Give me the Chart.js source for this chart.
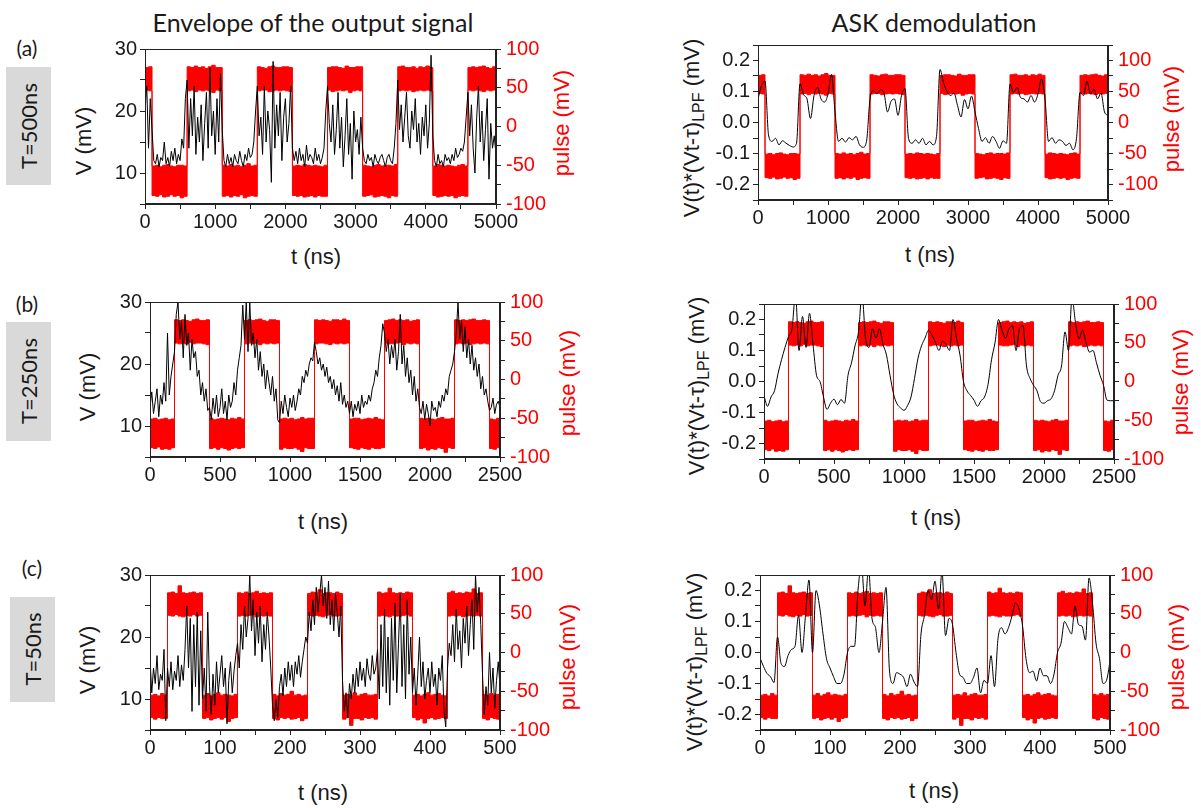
<!DOCTYPE html>
<html>
<head>
<meta charset="utf-8">
<script src="https://cdn.jsdelivr.net/npm/chart.js@4.4.1/dist/chart.umd.min.js"></script>
<style>
  body { margin: 0; background: #fff; width: 1201px; height: 808px; position: relative; overflow: hidden;
         font-family: 'Liberation Sans', Arial, sans-serif; color: #1a1a1a; }
  canvas { position: absolute; }
  .lbl { position: absolute; white-space: nowrap; transform: translate(-50%, -50%); }
  .rot { transform: translate(-50%, -50%) rotate(-90deg); }
  .axt { font-size: 22px; }
  .red { color: #ff0000; }
  .head { font-family: Lato, 'Open Sans', sans-serif; font-size: 25px; }
  .tag { font-family: Lato, 'Open Sans', sans-serif; font-size: 21px; }
  .box { position: absolute; background: #d9d9d9; }
  sub { font-size: 16px; vertical-align: -5px; }
</style>
</head>
<body>

<div class="lbl head" style="left:313px;top:22px">Envelope of the output signal</div>
<div class="lbl head" style="left:934px;top:22px">ASK demodulation</div>

<div class="lbl tag" style="left:27px;top:47px">(a)</div>
<div class="lbl tag" style="left:27px;top:303px">(b)</div>
<div class="lbl tag" style="left:32px;top:567px">(c)</div>

<div class="box" style="left:6px;top:67px;width:45px;height:118px"></div>
<div class="box" style="left:6px;top:322px;width:45px;height:119px"></div>
<div class="box" style="left:10px;top:597px;width:45px;height:105px"></div>
<div class="lbl rot tag" style="left:28px;top:126px;font-size:22px">T=500ns</div>
<div class="lbl rot tag" style="left:28px;top:381px;font-size:22px">T=250ns</div>
<div class="lbl rot tag" style="left:32px;top:649px;font-size:22px">T=50ns</div>

<div class="lbl rot axt" style="left:84px;top:141px">V (mV)</div>
<div class="lbl rot axt red" style="left:562px;top:123px">pulse (mV)</div>
<div class="lbl rot axt" style="left:693px;top:128px">V(t)*(Vt-τ)<sub>LPF</sub> (mV)</div>
<div class="lbl rot axt red" style="left:1172px;top:119px">pulse (mV)</div>

<div class="lbl rot axt" style="left:88px;top:387px">V (mV)</div>
<div class="lbl rot axt red" style="left:568px;top:383px">pulse (mV)</div>
<div class="lbl rot axt" style="left:698px;top:386px">V(t)*(Vt-τ)<sub>LPF</sub> (mV)</div>
<div class="lbl rot axt red" style="left:1181px;top:382px">pulse (mV)</div>

<div class="lbl rot axt" style="left:88px;top:660px">V (mV)</div>
<div class="lbl rot axt red" style="left:568px;top:657px">pulse (mV)</div>
<div class="lbl rot axt" style="left:696px;top:662px">V(t)*(Vt-τ)<sub>LPF</sub> (mV)</div>
<div class="lbl rot axt red" style="left:1177px;top:657px">pulse (mV)</div>

<div class="lbl axt" style="left:316px;top:257px">t (ns)</div>
<div class="lbl axt" style="left:930px;top:255px">t (ns)</div>
<div class="lbl axt" style="left:323px;top:522px">t (ns)</div>
<div class="lbl axt" style="left:936px;top:518px">t (ns)</div>
<div class="lbl axt" style="left:323px;top:793px">t (ns)</div>
<div class="lbl axt" style="left:934px;top:791px">t (ns)</div>

<script>
// ---- tick labels ----
const xTicksA = [0, 1000, 2000, 3000, 4000, 5000];
const xTicksB = [0, 500, 1000, 1500, 2000, 2500];
const xTicksC = [0, 100, 200, 300, 400, 500];
const vTicks = [10, 20, 30];
const askTicks = [-0.2, -0.1, 0, 0.1, 0.2];
const pulseTicks = [-100, -50, 0, 50, 100];

// ---- (a) T=500ns ----
// envelope, one value every 25 ns
const envA = [
  20, 24, 14, 22,
  17, 12, 11.5, 13, 11, 12.5, 12, 15, 11.5, 12.5, 11, 13.5, 12, 14, 11.5, 13, 12, 15.5, 14, 22,
  25, 14, 22, 16, 24, 13, 19, 15, 21, 12, 18, 23, 14, 27, 16, 20, 13, 22, 15, 26,
  17, 12, 11, 13, 11.5, 12.5, 11, 13, 12, 11.5, 13.5, 12, 11, 13, 12, 14, 12.5, 13, 15, 20,
  24, 16, 19, 13, 24, 15, 20, 17, 8.5, 28, 14, 21, 16, 23, 12, 19, 22, 15, 18, 24,
  14, 12, 13.5, 11.5, 14, 12, 13, 11, 14.5, 12, 13, 12.5, 11.5, 14, 12, 13, 11.5, 12.5, 14, 20,
  24, 18, 15, 21, 13, 17, 23, 14, 19, 11, 16, 22, 13, 18, 9, 20, 15, 17, 13, 19,
  14, 12, 11.5, 13, 12, 12.5, 11, 13, 12, 11.5, 12.5, 13, 12, 11, 12.5, 13, 12, 11.5, 14, 18,
  25, 17, 21, 15, 19, 23, 16, 14, 20, 17, 22, 15, 18, 13, 19, 16, 21, 14, 18, 29,
  16, 12, 11, 13, 11.5, 12, 11, 13, 12, 12.5, 11.5, 13, 12, 14, 12.5, 13, 14, 13.5, 15, 19,
  23, 16, 21, 14, 10, 19, 24, 15, 20, 12, 17, 22, 9, 18, 14, 16, 13
];
// demodulated, one value every 50 ns
const askA = [
  0.076, 0.118, 0.134, -0.04, -0.061, -0.051, -0.072, -0.059, -0.067, -0.074,
  -0.079, -0.067, 0.125, 0.09, 0.076, 0.013, 0.087, 0.113, 0.076, 0.066,
  0.092, 0.155, 0.034, -0.061, -0.051, -0.063, -0.049, -0.056, -0.045, -0.072,
  -0.08, -0.061, 0.076, 0.103, 0.092, 0.106, 0.095, 0.034, 0.068, 0.076,
  0.023, 0.087, 0.11, -0.051, -0.067, -0.056, -0.067, -0.051, -0.072, -0.061,
  -0.072, -0.045, 0.171, 0.129, 0.1, 0.087, 0.095, 0.055, 0.018, 0.074,
  0.044, 0.085, 0.034, -0.019, -0.061, -0.049, -0.067, -0.045, -0.061, -0.083,
  -0.059, -0.067, 0.124, 0.097, 0.113, 0.081, 0.076, 0.066, 0.087, 0.066,
  0.092, 0.14, 0.076, -0.061, -0.049, -0.067, -0.056, -0.061, -0.074, -0.067,
  -0.088, -0.051, 0.097, 0.087, 0.134, 0.092, 0.108, 0.076, 0.095, 0.034,
  0.023
];
// pulse noise band (upper / lower edge), one value every 50 ns
const pulseTopA = [
  76, 77,
  -51, -50, -52, -50, -49, -51, -52, -50, -50, -51,
  77, 76, 78, 76, 77, 75, 77, 79, 76, 76,
  -50, -51, -49, -51, -50, -52, -50, -48, -51, -50,
  77, 76, 75, 77, 78, 76, 76, 77, 77, 76,
  -51, -50, -51, -49, -50, -51, -50, -51, -52, -50,
  76, 77, 77, 76, 75, 78, 76, 76, 77, 77,
  -50, -51, -52, -50, -49, -51, -50, -50, -51, -49,
  77, 78, 76, 76, 77, 75, 77, 76, 78, 76,
  -51, -49, -50, -51, -50, -51, -52, -50, -49, -51,
  76, 77, 76, 77, 78, 76, 75, 77, 77
];
const pulseBotA = [
  47, 46,
  -89, -90, -88, -91, -90, -88, -90, -89, -92, -90,
  46, 47, 45, 47, 46, 47, 46, 44, 47, 46,
  -90, -89, -91, -89, -90, -88, -92, -90, -89, -90,
  46, 47, 47, 45, 46, 47, 46, 47, 46, 45,
  -89, -90, -89, -91, -90, -89, -91, -89, -90, -90,
  47, 45, 46, 47, 46, 47, 44, 46, 47, 46,
  -90, -89, -88, -91, -90, -89, -90, -92, -89, -90,
  46, 47, 46, 47, 45, 46, 47, 46, 47, 46,
  -89, -91, -90, -89, -90, -89, -92, -90, -89, -90,
  47, 46, 47, 46, 45, 47, 46, 47, 46
];

// ---- (b) T=250ns ----
// envelope, one value every 12.5 ns
const envB = [
  13, 15.5, 12, 14, 16, 11.5, 15, 13.5, 17, 14, 25, 15, 18, 20,
  22, 28, 30, 24, 27, 21, 28, 23, 25, 19, 24, 21, 22, 18, 19, 15, 17, 14, 16, 12.5,
  13, 11, 14.5, 12, 15, 11.5, 13, 16, 12, 14, 11, 15, 13, 14, 17, 15, 19, 21, 23, 29.5,
  24, 30, 22, 30, 23, 25, 21, 24, 19, 22, 18, 20, 16, 19, 17, 15, 18, 14, 16, 11,
  10.5, 14, 12, 15, 13, 11.5, 14.5, 13, 15, 12.5, 14, 16, 15, 18, 17, 19, 18, 20, 21, 20.5,
  23.5, 22, 20, 21, 19, 20, 18, 19.5, 17, 18, 16, 17.5, 15, 16.5, 14, 17, 13.5, 15, 13, 14,
  12, 14, 11.5, 13.5, 12.5, 14, 12, 15, 13, 14, 13.5, 15, 14, 16, 17, 19, 18, 21, 23, 26.5,
  25, 22, 24, 20, 23, 21, 24, 19, 22, 28, 20, 23, 18, 21, 17, 19, 15, 18, 14, 16,
  13, 12, 14, 11, 13.5, 12, 10, 14, 12.5, 13, 11.5, 14, 13, 15, 14, 16, 15, 18, 19, 20,
  22, 25, 30, 24, 27, 22, 26, 21, 24, 20, 23, 19, 21, 18, 20, 16, 18, 15, 16, 14,
  12.5, 13, 14.5, 12, 13.5, 14, 13
];
// demodulated, one value every 25 ns
const askB = [
  -0.046, -0.08, -0.05, -0.03, 0.025, 0.07, 0.11, 0.145, 0.17, 0.28,
  0.1, 0.21, 0.11, 0.22, 0.12, 0.02, 0.0, -0.05, -0.09, -0.07,
  -0.057, -0.075, -0.058, -0.07, 0.02, 0.06, 0.115, 0.16, 0.28, 0.14,
  0.11, 0.17, 0.14, 0.17, 0.12, 0.085, 0.02, -0.04, -0.072, -0.085,
  -0.093, -0.078, -0.05, 0.01, 0.075, 0.115, 0.14, 0.165, 0.15, 0.125,
  0.1, 0.13, 0.12, 0.1, 0.2, 0.14, 0.085, 0.0, -0.03, -0.045,
  -0.06, -0.08, -0.062, -0.05, -0.01, 0.07, 0.125, 0.2, 0.165, 0.14,
  0.17, 0.18, 0.1, 0.17, 0.18, 0.05, 0.01, -0.012, -0.03, -0.065,
  -0.07, -0.062, -0.056, -0.03, 0.02, 0.05, 0.16, 0.1, 0.27, 0.19,
  0.137, 0.165, 0.126, 0.095, 0.1, 0.06, 0.02, -0.012, -0.06, -0.062,
  -0.062
];
// pulse band edges, one value every 25 ns
const pulseTopB = [
  -51, -50, -52, -51, -50, -52, -51,
  77, 76, 77, 76, 75, 77, 78, 76, 76, 77,
  -50, -52, -51, -50, -51, -52, -50, -51, -49, -51,
  76, 77, 76, 77, 78, 76, 75, 77, 77, 76,
  -51, -50, -51, -50, -52, -51, -49, -51, -50, -50,
  77, 76, 77, 76, 75, 77, 77, 76, 78, 76,
  -51, -50, -50, -52, -51, -50, -51, -49, -51, -52,
  76, 77, 78, 76, 77, 76, 77, 75, 76, 77,
  -50, -51, -50, -51, -52, -50, -49, -51, -51, -50,
  77, 76, 77, 76, 77, 78, 76, 76, 77, 76,
  -51, -52, -50, -51
];
const pulseBotB = [
  -88, -89, -87, -90, -89, -90, -88,
  47, 46, 47, 46, 48, 46, 47, 47, 46, 45,
  -89, -88, -90, -88, -89, -91, -89, -88, -89, -88,
  46, 47, 46, 47, 45, 47, 46, 47, 46, 47,
  -90, -88, -89, -89, -88, -90, -93, -88, -89, -89,
  46, 47, 47, 46, 45, 47, 46, 47, 46, 47,
  -88, -89, -90, -88, -89, -90, -88, -89, -89, -88,
  47, 46, 46, 47, 48, 45, 47, 46, 47, 46,
  -89, -88, -91, -89, -90, -88, -89, -94, -88, -89,
  46, 47, 46, 47, 45, 46, 47, 46, 47, 46,
  -89, -90, -88, -89
];

// ---- (c) T=50ns ----
// envelope, one value every 2.5 ns
const envC = [
  16.5, 11, 15, 12.5, 17, 11.5, 14, 13, 18, 6.5,
  15, 12, 16, 11.5, 14.5, 13, 17, 12, 15.5, 13,
  18, 25, 15, 23, 8, 22, 12, 24, 9, 21,
  10, 15, 8, 24, 12, 7.5, 14, 9, 16, 11,
  14, 17, 12, 15, 6, 13, 16, 11, 14.5, 17,
  19, 15, 22, 18, 25, 20, 23, 30, 21, 26,
  17, 24, 19, 25, 16, 22, 18, 24, 20, 15,
  9, 6.5, 10, 7, 12, 14, 10.5, 15, 12, 16,
  13, 15.5, 12, 16, 14, 17, 13.5, 16, 18, 20,
  19, 24, 21, 26, 22, 28, 24, 27, 30, 25,
  28, 23, 29, 22, 26, 21, 27, 24, 20, 25,
  13, 8, 11, 7, 12.5, 10, 14, 11, 15, 12,
  16, 13, 15, 12, 16.5, 14, 13, 17, 14, 15,
  18, 10, 22, 12, 24.5, 11, 20, 9, 23, 13,
  25.5, 11, 19, 27, 12, 22, 10, 26, 14, 20,
  11, 15, 9, 14, 20, 12, 16, 10, 13, 15,
  11, 16, 12, 14, 9, 15, 13, 17, 8, 5.5,
  15, 19, 17, 22, 16, 24.5, 18, 21, 15, 23,
  19, 25, 17, 22, 26, 18, 30, 24, 28, 22,
  14, 7.5, 12, 9, 17.5, 11, 15, 8.5, 13, 16,
  12
];
// demodulated, one value every 5 ns
const askC = [
  -0.018, -0.045, -0.068, -0.078, -0.097, 0.05, -0.035, -0.045, -0.01, 0.01,
  0.02, 0.12, 0.0, 0.12, 0.234, 0.0, 0.2, 0.15, 0.06, -0.02,
  -0.05, -0.078, -0.1, -0.1, -0.07, 0.0, 0.02, 0.02, 0.2, 0.28,
  0.15, 0.27, 0.11, 0.08, 0.0, 0.1, 0.21, -0.06, -0.1, -0.065,
  -0.07, -0.08, -0.11, -0.07, -0.095, -0.11, 0.06, 0.12, 0.2, 0.17,
  0.23, 0.14, 0.26, 0.055, 0.11, 0.09, 0.0, -0.07, -0.08, -0.1,
  -0.1, -0.08, -0.05, -0.13, -0.09, -0.1, -0.01, -0.11, 0.045, 0.08,
  0.06, 0.08, 0.118, 0.16, 0.14, 0.087, -0.02, -0.065, -0.06, -0.092,
  -0.05, -0.075, -0.075, -0.1, -0.07, 0.0, 0.03, 0.1, 0.08, 0.06,
  0.15, 0.09, 0.085, 0.04, 0.24, 0.16, 0.03, -0.02, -0.1, -0.09,
  -0.03
];
// pulse band edges, one value every 5 ns
const pulseTopC = [
  -55, -54, -56, -53, -55,
  77, 78, 76, 86, 77, 76, 77, 78, 76, 77,
  -55, -53, -56, -54, -52, -55, -54, -55, -56, -54,
  77, 76, 78, 76, 77, 79, 76, 77, 76, 77,
  -54, -56, -53, -55, -54, -50, -55, -54, -56, -55,
  76, 78, 77, 81, 76, 77, 77, 76, 78, 76,
  -55, -54, -55, -52, -56, -54, -53, -55, -55, -54,
  78, 76, 77, 83, 77, 76, 77, 76, 78, 77,
  -55, -54, -56, -54, -52, -55, -54, -53, -55, -56,
  77, 79, 76, 77, 76, 78, 77, 82, 76, 77,
  -54, -55, -53, -55, -54, -55
];
const pulseBotC = [
  -84, -86, -84, -85, -85,
  48, 47, 49, 47, 46, 48, 47, 49, 47, 48,
  -85, -84, -87, -85, -84, -86, -84, -89, -85, -84,
  47, 48, 47, 48, 49, 46, 48, 47, 48, 47,
  -85, -87, -84, -85, -84, -86, -85, -84, -88, -85,
  48, 47, 48, 47, 46, 48, 49, 47, 47, 48,
  -86, -84, -94, -85, -85, -87, -84, -85, -84, -86,
  47, 48, 47, 46, 48, 47, 47, 48, 49, 47,
  -84, -87, -85, -91, -85, -84, -86, -85, -84, -85,
  47, 48, 47, 48, 46, 47, 48, 47, 48, 47,
  -85, -87, -84, -85, -86, -85
];

// ---- layout & style ----
const INK = '#1a1a1a';
const RED = '#ff0000';
const SIDE = 70, TOP = 14, BOTTOM = 40;
const tickFont = { family: "'Liberation Sans', Arial, sans-serif", size: 20 };

const panels = [
  { box: [145, 46, 496, 204], xMax: 5000, xStep: 500, xTicks: xTicksA, sig: envA, dt: 25, ask: false,
    top: pulseTopA, bot: pulseBotA, pdt: 50, pRange: [-100, 100] },
  { box: [758, 42, 1108, 200], xMax: 5000, xStep: 500, xTicks: xTicksA, sig: askA, dt: 50, ask: true,
    top: pulseTopA, bot: pulseBotA, pdt: 50, pRange: [-125, 125] },
  { box: [150, 299, 500, 457], xMax: 2500, xStep: 250, xTicks: xTicksB, sig: envB, dt: 12.5, ask: false,
    top: pulseTopB, bot: pulseBotB, pdt: 25, pRange: [-100, 100] },
  { box: [764, 301, 1114, 459], xMax: 2500, xStep: 250, xTicks: xTicksB, sig: askB, dt: 25, ask: true,
    top: pulseTopB, bot: pulseBotB, pdt: 25, pRange: [-100, 100] },
  { box: [150, 572, 500, 730], xMax: 500, xStep: 50, xTicks: xTicksC, sig: envC, dt: 2.5, ask: false,
    top: pulseTopC, bot: pulseBotC, pdt: 5, pRange: [-100, 100] },
  { box: [760, 572, 1110, 730], xMax: 500, xStep: 50, xTicks: xTicksC, sig: askC, dt: 5, ask: true,
    top: pulseTopC, bot: pulseBotC, pdt: 5, pRange: [-100, 100] }
];

function pts(vals, dt) {
  return vals.map((v, i) => ({ x: i * dt, y: v }));
}

// only label the values listed in the tick arrays, the rest are minor ticks
function pick(list, fmt) {
  return function (v) {
    const hit = list.find(t => Math.abs(t - v) < 1e-6);
    return hit === undefined ? '' : fmt(hit);
  };
}

const frame = {
  id: 'frame',
  afterDraw(chart) {
    const a = chart.chartArea, ctx = chart.ctx;
    ctx.save();
    ctx.strokeStyle = '#222';
    ctx.lineWidth = 1;
    ctx.strokeRect(Math.round(a.left) + 0.5, Math.round(a.top) + 0.5,
                   Math.round(a.right - a.left) - 1, Math.round(a.bottom - a.top) - 1);
    ctx.restore();
  }
};

function makeChart(p) {
  const [l, t, r, b] = p.box;
  const cv = document.createElement('canvas');
  cv.width = r - l + 2 * SIDE;
  cv.height = b - t + TOP + BOTTOM;
  cv.style.left = (l - SIDE) + 'px';
  cv.style.top = (t - TOP) + 'px';
  document.body.appendChild(cv);

  const grid = { drawOnChartArea: false, drawTicks: true, tickLength: 5, color: '#222' };
  const border = { display: true, color: '#222', width: 1 };

  new Chart(cv, {
    type: 'line',
    data: {
      datasets: [
        { data: pts(p.sig, p.dt), yAxisID: 'y', borderColor: '#000', borderWidth: 1,
          pointRadius: 0, tension: p.ask ? 0.4 : 0, cubicInterpolationMode: p.ask ? 'monotone' : 'default',
          fill: false, order: 0 },
        { data: pts(p.top, p.pdt), yAxisID: 'y1', borderColor: RED, backgroundColor: RED,
          borderWidth: 1, pointRadius: 0, stepped: true, fill: '+1', order: 1 },
        { data: pts(p.bot, p.pdt), yAxisID: 'y1', borderColor: RED, borderWidth: 1,
          pointRadius: 0, stepped: true, fill: false, order: 2 }
      ]
    },
    options: {
      responsive: false,
      animation: false,
      events: [],
      layout: { padding: { top: TOP, left: 0, right: 0, bottom: 0 } },
      plugins: { legend: { display: false }, tooltip: { enabled: false } },
      scales: {
        x: {
          type: 'linear', min: 0, max: p.xMax,
          ticks: { stepSize: p.xStep, autoSkip: false, maxRotation: 0, minRotation: 0, padding: 1,
                   color: INK, font: tickFont, callback: pick(p.xTicks, v => String(v)) },
          grid: grid, border: border,
          afterFit: s => { s.height = BOTTOM; }
        },
        y: {
          position: 'left',
          min: p.ask ? -0.25 : 5, max: p.ask ? 0.25 : 30,
          ticks: { stepSize: p.ask ? 0.05 : 5, autoSkip: false, padding: 3, color: INK, font: tickFont,
                   callback: p.ask ? pick(askTicks, v => v.toFixed(1)) : pick(vTicks, v => String(v)) },
          grid: grid, border: border,
          afterFit: s => { s.width = SIDE; }
        },
        y1: {
          position: 'right',
          min: p.pRange[0], max: p.pRange[1],
          ticks: { stepSize: 25, autoSkip: false, padding: 5, color: RED, font: tickFont,
                   callback: pick(pulseTicks, v => String(v)) },
          grid: grid, border: border,
          afterFit: s => { s.width = SIDE; }
        }
      }
    },
    plugins: [frame]
  });
}

panels.forEach(makeChart);
</script>
</body>
</html>
